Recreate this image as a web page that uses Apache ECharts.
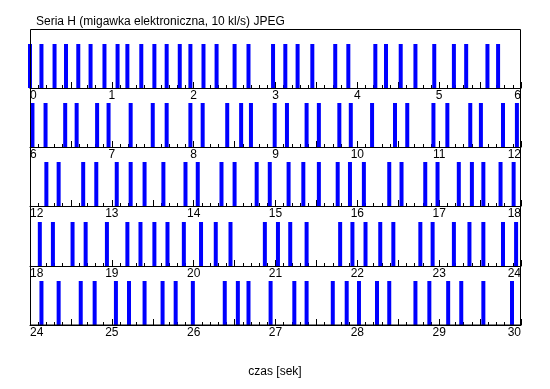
<!DOCTYPE html>
<html>
<head>
<meta charset="utf-8">
<script src="https://cdn.jsdelivr.net/npm/echarts@6/dist/echarts.min.js"></script>
<style>html,body{margin:0;padding:0;background:#fff}#c{width:550px;height:389px}</style>
</head>
<body>
<div id="c"></div>
<script>
var title = 'Seria H (migawka elektroniczna, 10 kl/s) JPEG';
var xName = 'czas [sek]';
var rowStarts = [0, 6, 12, 18, 24];
var row1 = [0.00, 0.14, 0.30, 0.44, 0.59, 0.74, 0.91, 1.07, 1.19, 1.36, 1.52, 1.67, 1.83, 1.96, 2.12, 2.28, 2.50, 2.67, 2.97, 3.12, 3.27, 3.45, 3.73, 3.89, 4.22, 4.35, 4.53, 4.71, 4.94, 5.18, 5.33, 5.59, 5.72];
var row2 = [6.03, 6.19, 6.43, 6.57, 6.82, 6.96, 7.23, 7.50, 7.67, 7.96, 8.11, 8.41, 8.58, 8.70, 8.99, 9.14, 9.38, 9.53, 9.78, 9.92, 10.18, 10.46, 10.61, 10.93, 11.10, 11.38, 11.51, 11.78, 11.95];
var row3 = [12.20, 12.35, 12.65, 12.81, 13.06, 13.23, 13.40, 13.63, 13.90, 14.05, 14.34, 14.50, 14.77, 14.93, 15.16, 15.34, 15.53, 15.76, 15.91, 16.08, 16.39, 16.54, 16.83, 16.98, 17.24, 17.40, 17.54, 17.75, 17.91];
var row4 = [18.12, 18.28, 18.52, 18.68, 18.94, 19.19, 19.35, 19.52, 19.68, 19.88, 20.09, 20.27, 20.45, 20.87, 21.03, 21.18, 21.38, 21.79, 21.94, 22.10, 22.28, 22.44, 22.77, 22.92, 23.18, 23.37, 23.54, 23.78, 23.94];
var row5 = [24.14, 24.35, 24.62, 24.79, 25.05, 25.21, 25.40, 25.62, 25.78, 25.99, 26.38, 26.54, 26.67, 26.94, 27.23, 27.38, 27.70, 27.87, 28.02, 28.24, 28.39, 28.71, 28.88, 29.11, 29.27, 29.54, 29.89];
var rows = [row1, row2, row3, row4, row5];

var baselines = [88, 147, 206, 266, 325];
var barH = 44;
var FONT = 'Liberation Sans, Arial, sans-serif';

var grids = [], xAxes = [], yAxes = [], series = [];
rows.forEach(function (r, i) {
  grids.push({left: 30, right: 29, top: baselines[i] - barH, bottom: 389 - baselines[i], containLabel: false});
  xAxes.push({
    type: 'value', gridIndex: i, min: rowStarts[i], max: rowStarts[i] + 6, interval: 0.5,
    axisLine: {show: true, onZero: false, lineStyle: {color: '#000', width: 1}},
    axisTick: {show: true, inside: true, length: 6, lineStyle: {color: '#000'}},
    minorTick: {show: true, splitNumber: 5, length: 3, lineStyle: {color: '#000'}},
    splitLine: {show: false},
    axisLabel: {
      show: true, interval: 0, margin: 2, color: '#000', fontSize: 12, fontFamily: FONT,
      showMinLabel: true, showMaxLabel: true, hideOverlap: false,
      alignMinLabel: 'left', alignMaxLabel: 'right',
      formatter: function (v) { return Math.abs(v - Math.round(v)) < 1e-6 ? String(Math.round(v)) : ''; }
    }
  });
  yAxes.push({type: 'value', gridIndex: i, min: 0, max: 1, show: false});
  series.push({
    type: 'bar', xAxisIndex: i, yAxisIndex: i, barWidth: 4, clip: false,
    itemStyle: {color: '#0000ff'}, silent: true, animation: false,
    data: r.map(function (t) { return [t, 1]; })
  });
});

var chart = echarts.init(document.getElementById('c'), null, {renderer: 'canvas'});
chart.setOption({
  animation: false,
  backgroundColor: '#fff',
  title: [
    {text: title, left: 31, top: 11, textStyle: {fontSize: 12, fontWeight: 'normal', color: '#000', fontFamily: FONT}},
    {text: xName, left: 'center', top: 361, textStyle: {fontSize: 12, fontWeight: 'normal', color: '#000', fontFamily: FONT}}
  ],
  grid: grids, xAxis: xAxes, yAxis: yAxes, series: series,
  graphic: [{type: 'rect', z: 100, shape: {x: 30.5, y: 29.5, width: 490, height: 295.5}, style: {fill: null, stroke: '#000', lineWidth: 1}}]
});
</script>
</body>
</html>
